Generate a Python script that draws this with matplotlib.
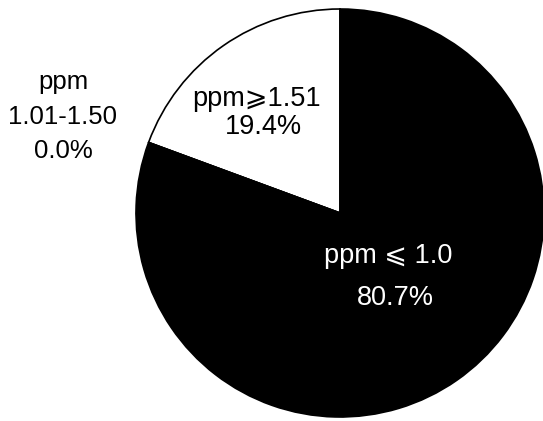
import matplotlib
matplotlib.use("Agg")
import matplotlib.pyplot as plt

plt.rcParams['font.family'] = ['Liberation Sans', 'DejaVu Sans']

categories = ["ppm⩾1.51", "ppm\n1.01-1.50", "ppm ⩽ 1.0"]
values = [19.4, 0.0, 80.7]
pct_labels = ["19.4%", "0.0%", "80.7%"]
colors = ["white", "white", "black"]

fig = plt.figure(figsize=(5.43, 4.21), dpi=100)
ax = fig.add_axes([136/543, 4/421, 408/543, 408/421])
ax.pie(values, colors=colors, startangle=90, counterclock=True,
       wedgeprops=dict(edgecolor="black", linewidth=1.2))
ax.set_xlim(-1, 1)
ax.set_ylim(-1, 1)
ax.set_aspect("equal")
ax.axis("off")

fs = 19.5
ax.text(-0.407, 0.56, categories[0], ha="center", va="center", fontsize=fs, color="black")
ax.text(-0.377, 0.42, pct_labels[0], ha="center", va="center", fontsize=fs, color="black")
ax.text(0.235, -0.21, categories[2], ha="center", va="center", fontsize=fs, color="white")
ax.text(0.27, -0.415, pct_labels[2], ha="center", va="center", fontsize=fs, color="white")
lines = categories[1].split("\n")
fs2 = 18.5
ax.text(-1.358, 0.64, lines[0], ha="center", va="center", fontsize=fs2, color="black")
ax.text(-1.358, 0.47, lines[1], ha="center", va="center", fontsize=fs2, color="black")
ax.text(-1.358, 0.305, pct_labels[1], ha="center", va="center", fontsize=fs2, color="black")

fig.savefig("out.png", dpi=100)
